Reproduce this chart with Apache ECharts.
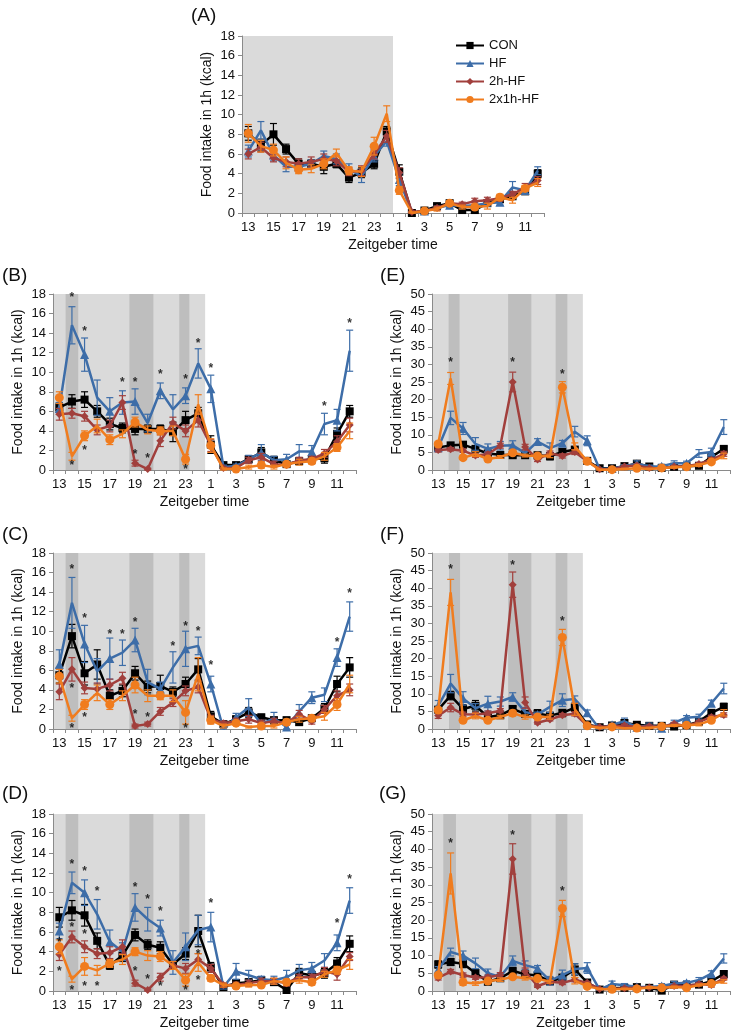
<!DOCTYPE html>
<html><head><meta charset="utf-8">
<script src="https://cdn.jsdelivr.net/npm/echarts@6/dist/echarts.min.js"></script>
<style>html,body{margin:0;padding:0;background:#fff}#main{width:735px;height:1033px}</style>
</head><body><div id="main"></div>
<script>
// ---------- DATA ----------
const categories = ['13','14','15','16','17','18','19','20','21','22','23','24','1','2','3','4','5','6','7','8','9','10','11','12'];
const seriesNames = ['CON','HF','2h-HF','2x1h-HF'];
const yTicksSmall = {max:18, interval:2};
const yTicksLarge = {max:50, interval:5};

// Panel A
const conA = [8.1,6.9,8.0,6.5,5.0,5.0,4.7,5.0,3.6,4.1,5.0,8.3,4.2,0.0,0.25,0.7,1.0,0.3,0.3,1.0,1.4,1.7,2.2,4.0];
const hfA  = [6.3,8.4,5.9,4.7,4.7,5.0,5.8,5.5,4.5,3.7,5.8,7.3,3.4,0.0,0.2,0.5,0.8,0.7,0.8,1.0,1.1,2.6,2.3,4.3];
const redA = [6.0,6.7,5.6,5.2,5.0,5.2,5.5,5.3,4.2,4.3,6.0,7.8,4.1,0.1,0.2,0.5,1.0,0.9,1.2,1.3,1.5,1.9,2.6,3.3];
const orgA = [8.1,6.8,6.4,5.1,4.4,4.5,5.0,6.1,4.3,4.2,6.8,10.1,2.3,0.0,0.2,0.4,1.0,0.6,0.6,0.7,1.6,1.3,2.5,3.1];
const conAErr = [0.7,0.6,1.1,0.5,0.5,0.4,0.7,0.4,0.5,0.5,0.5,0.5,0.7,0.1,0.1,0.2,0.2,0.3,0.3,0.3,0.3,0.3,0.3,0.4];
const hfAErr  = [0.6,0.9,0.6,0.5,0.3,0.4,0.5,0.5,0.5,0.6,0.6,0.5,0.6,0.1,0.1,0.2,0.3,0.2,0.3,0.3,0.3,0.6,0.4,0.4];
const redAErr = [0.5,0.5,0.4,0.5,0.5,0.5,0.5,0.5,0.4,0.5,0.5,0.6,0.5,0.1,0.1,0.2,0.2,0.2,0.3,0.3,0.3,0.3,0.4,0.4];
const orgAErr = [0.9,0.6,0.6,0.6,0.4,0.4,0.5,0.4,0.4,0.5,0.9,0.8,0.4,0.1,0.1,0.2,0.2,0.2,0.2,0.3,0.3,0.3,0.3,0.4];

// Panel B (CON/HF shared with E)
const conB = [6.4,7.0,7.2,6.0,4.7,4.3,4.2,4.2,4.2,3.9,5.1,5.8,2.6,0.5,0.5,1.1,1.8,1.0,0.6,0.9,1.1,1.2,3.7,6.0];
const hfB  = [6.3,14.8,11.8,7.4,6.0,6.9,7.0,4.8,8.1,6.2,7.6,10.9,8.3,0.3,0.4,1.1,1.8,1.0,1.1,1.9,1.9,4.7,5.1,12.2];
const redB = [5.7,5.8,5.5,4.1,4.5,6.9,0.7,0.1,3.0,4.8,4.0,5.1,2.5,0.2,0.2,1.0,1.3,0.6,0.5,1.0,1.1,1.7,2.9,4.6];
const orgB = [7.4,1.4,3.5,4.5,3.1,3.7,4.9,4.1,4.0,4.0,1.1,6.7,2.5,0.1,0.1,0.3,0.5,0.3,0.6,0.8,0.9,1.4,2.3,4.0];
const conBErr = [0.5,0.7,0.8,0.6,0.6,0.5,0.6,0.4,0.4,1.0,0.9,0.6,0.9,0.2,0.2,0.3,0.5,0.4,0.3,0.3,0.4,0.5,0.6,0.6];
const hfBErr  = [0.6,1.9,1.7,1.8,1.4,1.2,1.3,0.9,0.8,1.5,0.8,1.5,1.4,0.2,0.2,0.4,0.8,0.4,0.5,0.7,0.6,1.1,1.1,2.1];
const redBErr = [0.6,0.5,0.5,0.5,0.6,0.7,0.3,0.1,0.6,0.6,0.6,0.7,0.6,0.1,0.1,0.3,0.4,0.3,0.2,0.3,0.3,0.4,0.6,0.7];
const orgBErr = [0.6,0.4,0.5,0.7,0.5,0.4,0.5,0.4,0.4,0.5,0.5,1.0,0.7,0.1,0.1,0.2,0.3,0.2,0.2,0.3,0.3,0.4,0.4,0.8];
const starsB = [[1,17.9],[1,0.7],[2,14.5],[2,2.3],[5,9.2],[6,9.2],[6,1.9],[7,1.5],[8,10.1],[10,9.5],[10,0.35],[11,13.2],[12,10.7],[21,6.75],[23,15.3]];

// Panel C (CON/HF shared with F)
const conC = [5.5,9.5,5.7,6.6,3.4,3.9,5.7,4.3,4.4,3.8,4.6,6.1,1.3,0.5,1.0,1.7,1.2,0.9,0.9,0.7,1.1,2.1,4.6,6.3];
const hfC  = [6.6,12.9,8.7,5.9,7.2,7.8,9.1,4.8,4.1,6.3,8.2,8.5,4.6,0.0,1.2,2.2,0.5,1.1,0.2,1.8,3.2,3.5,7.3,11.5];
const redC = [3.8,6.1,4.2,4.1,4.5,5.2,0.3,0.5,1.8,2.7,3.9,4.3,1.0,0.6,0.8,1.0,0.6,0.8,0.6,1.5,0.8,2.0,3.4,4.0];
const orgC = [5.4,1.1,2.5,3.7,2.5,3.4,4.5,3.4,3.4,3.4,1.7,5.6,0.9,0.3,0.6,0.2,0.3,0.3,0.7,1.0,1.1,1.3,2.5,4.6];
const conCErr = [0.8,1.2,1.2,1.5,0.6,0.6,0.7,0.6,1.1,0.5,0.7,1.1,0.5,0.2,0.3,0.5,0.3,0.3,0.3,0.3,0.3,0.5,0.8,1.0];
const hfCErr  = [1.5,2.6,1.9,1.3,2.1,1.3,1.2,1.3,0.7,1.6,1.8,0.9,0.8,0.1,0.4,0.9,0.4,0.6,0.3,0.7,0.6,0.7,0.9,1.5];
const redCErr = [0.8,1.2,0.6,0.6,0.6,0.6,0.2,0.2,0.4,0.4,0.5,0.6,0.4,0.2,0.3,0.4,0.3,0.3,0.2,0.4,0.3,0.4,0.5,0.6];
const orgCErr = [0.7,0.3,0.5,0.8,0.5,0.5,0.8,0.6,0.4,0.6,1.2,1.7,0.4,0.2,0.2,0.1,0.2,0.2,0.3,0.3,0.3,0.4,0.6,0.9];
const starsC = [[1,16.6],[1,4.4],[1,0.3],[2,11.6],[2,1.5],[4,10.0],[5,10.0],[6,11.2],[6,1.8],[7,1.5],[9,8.7],[10,10.8],[10,0.3],[11,10.3],[12,6.75],[22,9.1],[23,14.1]];

// Panel D (CON/HF shared with G)
const conD = [7.5,8.2,7.7,5.1,2.6,3.6,5.7,4.7,4.4,2.7,3.8,6.1,2.4,0.4,0.8,0.9,1.1,0.9,0.1,1.8,1.6,1.8,2.8,4.8];
const hfD  = [6.1,11.0,10.0,7.8,5.0,4.0,8.5,7.3,6.4,2.9,4.5,6.2,6.5,0.4,2.0,1.6,1.2,1.1,1.4,2.1,2.3,3.1,4.9,9.2];
const redD = [3.7,5.5,4.5,3.8,3.9,4.5,0.8,0.1,1.4,2.6,2.3,3.2,2.3,0.6,0.6,0.8,1.0,1.0,0.8,1.4,1.4,2.0,1.7,3.5];
const orgD = [4.5,1.2,2.5,2.1,2.8,3.2,4.0,3.6,3.5,2.6,1.1,2.9,1.3,0.6,0.5,0.6,0.6,1.0,0.9,1.1,0.9,1.7,2.1,2.7];
const conDErr = [1.0,1.0,1.1,0.8,0.4,0.6,0.6,0.5,0.6,0.4,0.6,1.6,0.5,0.2,0.3,0.3,0.3,0.3,0.2,0.5,0.4,0.5,0.6,0.8];
const hfDErr  = [0.8,1.1,1.3,1.5,1.2,0.9,1.4,1.2,0.8,1.2,1.4,1.5,1.5,0.2,0.8,0.5,0.3,0.4,0.7,0.6,0.6,0.7,0.8,1.3];
const redDErr = [0.6,0.6,0.6,0.5,0.6,0.7,0.3,0.1,0.4,0.4,0.5,0.6,0.4,0.2,0.3,0.3,0.3,0.3,0.3,0.3,0.3,0.4,0.6,0.4];
const orgDErr = [0.7,0.3,0.9,0.5,0.4,0.5,0.4,0.5,0.5,0.4,0.6,0.9,0.3,0.2,0.2,0.2,0.2,0.3,0.3,0.3,0.3,0.3,0.4,0.5];
const starsD = [[0,5.2],[0,2.3],[1,13.2],[1,6.7],[1,0.3],[2,12.4],[2,6.0],[2,0.7],[3,10.4],[3,0.7],[6,10.8],[6,2.3],[7,9.6],[7,1.5],[8,8.4],[8,0.7],[10,0.3],[11,4.0],[11,1.4],[12,9.2],[22,7.2],[23,11.65]];

// Panel E
const redE = [5.7,5.9,5.5,4.1,4.5,6.9,25.0,6.5,3.0,4.8,4.0,5.1,2.5,0.2,0.2,1.0,1.3,0.6,0.5,1.0,1.1,1.7,2.9,4.6];
const orgE = [7.4,26.0,3.5,4.5,3.1,3.7,4.9,4.1,4.0,4.0,23.5,6.7,2.5,0.1,0.1,0.3,0.5,0.3,0.6,0.8,0.9,1.4,2.3,4.0];
const redEErr = [0.6,0.5,0.5,0.5,0.6,0.7,2.8,0.8,0.6,0.6,0.6,0.7,0.6,0.1,0.1,0.3,0.4,0.3,0.2,0.3,0.3,0.4,0.6,0.7];
const orgEErr = [0.6,1.7,0.5,0.7,0.5,0.4,0.5,0.4,0.4,0.5,1.6,1.0,0.7,0.1,0.1,0.2,0.3,0.2,0.2,0.3,0.3,0.4,0.4,0.8];
const starsE = [[1,31.2],[6,31.2],[10,27.9]];

// Panel F
const redF = [3.8,6.1,4.2,4.1,4.5,5.2,41.0,7.5,1.8,2.7,3.9,4.3,1.0,0.6,0.8,1.0,0.6,0.8,0.6,1.5,0.8,2.0,3.4,4.0];
const orgF = [5.4,38.8,2.5,3.7,2.5,3.4,4.5,3.4,3.4,3.4,26.0,5.6,0.9,0.3,0.6,0.2,0.3,0.3,0.7,1.0,1.1,1.3,2.5,4.6];
const redFErr = [0.8,1.2,0.6,0.6,0.6,0.6,3.6,1.6,0.4,0.4,0.5,0.6,0.4,0.2,0.3,0.4,0.3,0.3,0.2,0.4,0.3,0.4,0.5,0.6];
const orgFErr = [0.7,3.7,0.5,0.8,0.5,0.5,0.8,0.6,0.4,0.6,2.3,1.7,0.4,0.2,0.2,0.1,0.2,0.2,0.3,0.3,0.3,0.4,0.6,0.9];
const starsF = [[1,46.0],[6,47.2],[10,31.25]];

// Panel G
const redG = [3.7,5.5,4.5,3.8,3.9,4.5,37.3,5.5,1.4,2.6,2.3,3.2,2.3,0.6,0.6,0.8,1.0,1.0,0.8,1.4,1.4,2.0,1.7,3.5];
const orgG = [4.5,33.2,2.5,2.1,2.8,3.2,4.0,3.6,3.5,2.6,23.3,2.9,1.3,0.6,0.5,0.6,0.6,1.0,0.9,1.1,0.9,1.7,2.1,2.7];
const redGErr = [0.6,0.6,0.6,0.5,0.6,0.7,4.3,1.0,0.4,0.4,0.5,0.6,0.4,0.2,0.3,0.3,0.3,0.3,0.3,0.3,0.3,0.4,0.6,0.4];
const orgGErr = [0.7,5.8,0.9,0.5,0.4,0.5,0.4,0.5,0.5,0.4,2.3,0.9,0.3,0.2,0.2,0.2,0.2,0.3,0.3,0.3,0.3,0.3,0.4,0.5];
const starsG = [[1,42.5],[6,44.6],[10,28.8]];

// Dark-phase shading bands, in hours from the left edge of the axis: [start, end, level]
const bandsA = [[0,12.0,0]];
const bandsBCD = [[0,12.05,0],[1.0,2.0,1],[6.05,7.95,1],[10.0,10.8,1]];
const bandsE = [[0,12.15,0],[1.34,2.22,1],[6.13,8.0,1],[9.96,10.9,1]];
const bandsF = [[0,12.15,0],[1.37,2.26,1],[6.13,8.0,1],[9.96,10.9,1]];
const bandsG = [[0,12.15,0],[0.91,1.93,1],[6.13,8.0,1],[9.96,10.9,1]];

// ---------- LAYOUT / STYLE ----------
const FONT = '"Liberation Sans", Arial, sans-serif';
const colors = ['#000000','#3D6DA8','#A13F3C','#F07C1E'];
const symbols = ['rect','triangle','diamond','circle'];
const symSizes = [8,9,8,9];

const panels = [
  {tag:'(A)', lx:191, ly:6,  g:{left:242,top:36,width:302,height:177}, y:yTicksSmall, data:[conA,hfA,redA,orgA], err:[conAErr,hfAErr,redAErr,orgAErr], stars:[], bands:bandsA},
  {tag:'(B)', lx:2,   ly:266, g:{left:53,top:294,width:303,height:176}, y:yTicksSmall, data:[conB,hfB,redB,orgB], err:[conBErr,hfBErr,redBErr,orgBErr], stars:starsB, bands:bandsBCD},
  {tag:'(C)', lx:2,   ly:525, g:{left:53,top:553,width:303,height:176}, y:yTicksSmall, data:[conC,hfC,redC,orgC], err:[conCErr,hfCErr,redCErr,orgCErr], stars:starsC, bands:bandsBCD},
  {tag:'(D)', lx:2,   ly:784, g:{left:53,top:814,width:303,height:177}, y:yTicksSmall, data:[conD,hfD,redD,orgD], err:[conDErr,hfDErr,redDErr,orgDErr], stars:starsD, bands:bandsBCD},
  {tag:'(E)', lx:380, ly:266, g:{left:432,top:294,width:298,height:176}, y:yTicksLarge, data:[conB,hfB,redE,orgE], err:[conBErr,hfBErr,redEErr,orgEErr], stars:starsE, bands:bandsE},
  {tag:'(F)', lx:380, ly:525, g:{left:432,top:553,width:298,height:176}, y:yTicksLarge, data:[conC,hfC,redF,orgF], err:[conCErr,hfCErr,redFErr,orgFErr], stars:starsF, bands:bandsF},
  {tag:'(G)', lx:379, ly:784, g:{left:432,top:814,width:298,height:177}, y:yTicksLarge, data:[conD,hfD,redG,orgG], err:[conDErr,hfDErr,redGErr,orgGErr], stars:starsG, bands:bandsG}
];

const grid = [], xAxis = [], yAxis = [], series = [], title = [];
const axisLineStyle = {color:'#8a8a8a', width:1};

panels.forEach((p, k) => {
  grid.push(Object.assign({containLabel:false}, p.g));
  title.push({text:p.tag, left:p.lx, top:p.ly, padding:0, textStyle:{fontSize:19, fontWeight:'normal', color:'#111', fontFamily:FONT}});
  xAxis.push({type:'category', gridIndex:k, data:categories, boundaryGap:true,
    name:'Zeitgeber time', nameLocation:'middle', nameGap:25,
    nameTextStyle:{fontSize:14, color:'#111', fontFamily:FONT},
    axisLine:{lineStyle:axisLineStyle}, axisTick:{show:true, interval:0, length:4, lineStyle:axisLineStyle},
    axisLabel:{interval:1, fontSize:13, color:'#111', margin:8, fontFamily:FONT}, splitLine:{show:false}});
  xAxis.push({type:'value', gridIndex:k, min:0, max:24, show:false});
  yAxis.push({type:'value', gridIndex:k, min:0, max:p.y.max, interval:p.y.interval,
    name:'Food intake in 1h (kcal)', nameLocation:'middle', nameGap:28, nameRotate:90,
    nameTextStyle:{fontSize:14, color:'#111', fontFamily:FONT},
    axisLine:{show:true, lineStyle:axisLineStyle}, axisTick:{show:true, length:4, lineStyle:axisLineStyle},
    axisLabel:{fontSize:13, color:'#111', margin:7, fontFamily:FONT}, splitLine:{show:false}});

  series.push({type:'custom', xAxisIndex:2*k+1, yAxisIndex:k, silent:true, z:0,
    data:p.bands, encode:{x:[0,1]},
    renderItem:function(params, api){
      const cs = params.coordSys;
      const a = api.coord([api.value(0), 0]);
      const b = api.coord([api.value(1), 0]);
      return {type:'rect', shape:{x:a[0], y:cs.y, width:b[0]-a[0], height:cs.height},
        style:{fill: api.value(2) ? '#BEBEBE' : '#DADADA'}};
    }});

  p.data.forEach((vals, s) => {
    const col = colors[s];
    const errData = vals.map((v, i) => [i, v, p.err[s][i]]);
    series.push({type:'custom', name:'err'+s, xAxisIndex:2*k, yAxisIndex:k, silent:true, z:2+s*2,
      data:errData, encode:{x:0, y:1},
      renderItem:function(params, api){
        const i = api.value(0), v = api.value(1), e = api.value(2);
        const t = api.coord([i, v+e]);
        const b = api.coord([i, Math.max(0, v-e)]);
        const hw = 3.5, st = {stroke:col, lineWidth:1.2};
        return {type:'group', children:[
          {type:'line', shape:{x1:t[0],y1:t[1],x2:b[0],y2:b[1]}, style:st},
          {type:'line', shape:{x1:t[0]-hw,y1:t[1],x2:t[0]+hw,y2:t[1]}, style:st},
          {type:'line', shape:{x1:b[0]-hw,y1:b[1],x2:b[0]+hw,y2:b[1]}, style:st}
        ]};
      }});
    series.push({type:'line', name:seriesNames[s], xAxisIndex:2*k, yAxisIndex:k, data:vals,
      z:3+s*2, symbol:symbols[s], symbolSize:symSizes[s], showSymbol:true,
      lineStyle:{color:col, width:2.5}, itemStyle:{color:col, borderWidth:0}, emphasis:{disabled:true}});
  });

  if (p.stars.length) {
    series.push({type:'scatter', name:'stars', xAxisIndex:2*k, yAxisIndex:k, data:p.stars, z:20, silent:true,
      symbol:'circle', symbolSize:1, itemStyle:{color:'transparent'},
      label:{show:true, formatter:'*', position:'inside', fontSize:12, fontWeight:'bold', color:'#000', offset:[0,3], fontFamily:FONT}});
  }
});

const chart = echarts.init(document.getElementById('main'), null, {renderer:'canvas'});
chart.setOption({
  animation:false,
  backgroundColor:'#ffffff',
  textStyle:{fontFamily:FONT},
  title:title,
  legend:{data:seriesNames, orient:'vertical', left:455, top:39, padding:0, itemWidth:28, itemHeight:9, itemGap:5,
    textStyle:{fontSize:13, color:'#111', fontFamily:FONT}, selectedMode:false},
  grid:grid, xAxis:xAxis, yAxis:yAxis, series:series
});
</script>
</body></html>
